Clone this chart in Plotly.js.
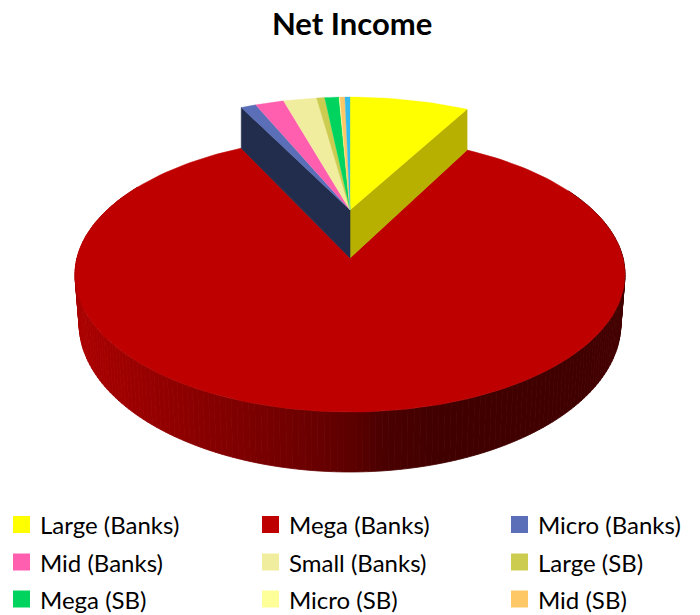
<!DOCTYPE html>
<html>
<head>
<meta charset="utf-8">
<script src="https://cdn.plot.ly/plotly-3.0.1.min.js"></script>
<style>html,body{margin:0;padding:0;background:#fff}#chart{width:700px;height:615px}</style>
</head>
<body>
<div id="chart"></div>
<script>
// Share of net income per segment, clockwise from twelve o'clock (percent).
const categories = ['Large (Banks)', 'Mega (Banks)', 'Micro (Banks)', 'Mid (Banks)', 'Small (Banks)',
                    'Large (SB)', 'Mega (SB)', 'Micro (SB)', 'Mid (SB)', 'Small (SB)'];
const shares = [7.86, 84.86, 1.0, 1.89, 2.19, 0.53, 0.94, 0.06, 0.33, 0.33];
const colors = ['#FFFF00', '#BE0000', '#5A6FB8', '#FF5FAE', '#F0EE9E',
                '#CCCC50', '#00D45F', '#FFFF99', '#FFC866', '#33BBEE'];
const legendCount = 9;   // the key lists the first nine segments

// Pie projection: a tilted disc seen in perspective.
const CX = 350, CY = 258, RX = 273, RY = 135.5, TILT = 0.12;
const WALL = 48, WALL_TILT = 0.2, BASE_SHRINK = 0.985;
const FRONT_STOPS = [[80, [170, 0, 0]], [193, [138, 0, 0]], [293, [112, 0, 0]],
                     [353, [92, 0, 0]], [383, [74, 0, 0]], [450, [64, 0, 0]], [640, [66, 0, 0]]];

function project(angleDeg, radius, lift) {
  const t = angleDeg * Math.PI / 180;
  const X = radius * Math.sin(t), Y = -radius * Math.cos(t);
  const s = 1 / (1 - TILT * Y);
  return [CX + RX * X * s, CY + RY * Y * s - lift];
}
function wallHeight(angleDeg) {
  const Y = -Math.cos(angleDeg * Math.PI / 180);
  return WALL / (1 - WALL_TILT * Y);
}
function basePoint(angleDeg) {
  const top = project(angleDeg, 1, 0);
  return [CX + (top[0] - CX) * BASE_SHRINK, top[1] + wallHeight(angleDeg)];
}
function polygon(points, color, width) {
  return {
    type: 'scatter', mode: 'lines', fill: 'toself', fillcolor: color,
    x: points.map(p => p[0]).concat(points[0][0]),
    y: points.map(p => p[1]).concat(points[0][1]),
    line: {color: color, width: width === undefined ? 0.6 : width},
    hoverinfo: 'skip', showlegend: false
  };
}
function shade(x) {
  for (let i = 1; i < FRONT_STOPS.length; i++) {
    if (x <= FRONT_STOPS[i][0]) {
      const [x0, c0] = FRONT_STOPS[i - 1], [x1, c1] = FRONT_STOPS[i];
      const f = Math.max(0, (x - x0) / (x1 - x0));
      return 'rgb(' + c0.map((c, k) => Math.round(c + (c1[k] - c) * f)).join(',') + ')';
    }
  }
  return 'rgb(66,0,0)';
}
function arc(a0, a1, lift) {
  const pts = [], n = Math.max(2, Math.ceil(Math.abs(a1 - a0) / 1.5));
  for (let i = 0; i <= n; i++) pts.push(project(a0 + (a1 - a0) * i / n, 1, lift));
  return pts;
}

// Angular span of each segment.
const total = shares.reduce((a, b) => a + b, 0);
const spans = [];
let running = 0;
shares.forEach(v => { const a0 = running; running += v / total * 360; spans.push([a0, running]); });

const traces = [];

// Outer wall of the large segment, shaded in narrow strips.
const [redStart, redEnd] = spans[1];
const stripStep = 1.2;
for (let a = 90; a < 270; a += stripStep) {
  const a1 = Math.min(a + stripStep, 270);
  const p0 = project(a, 1, 0), p1 = project(a1, 1, 0);
  const q0 = basePoint(a), q1 = basePoint(a1);
  traces.push(polygon([p0, p1, q1, q0], shade((p0[0] + p1[0]) / 2), 0.8));
}
for (const [from, to] of [[redStart + 30, 90], [270, redEnd - 30]]) {
  for (let a = from; a < to; a += stripStep) {
    const a1 = Math.min(a + stripStep, to);
    const p0 = project(a, 1, 0), p1 = project(a1, 1, 0);
    const q0 = basePoint(a), q1 = basePoint(a1);
    traces.push(polygon([p0, p1, q1, q0], shade((p0[0] + p1[0]) / 2), 0.8));
  }
}

// Top of the large segment.
traces.push(polygon([[CX, CY]].concat(arc(redStart, redEnd, 0)), colors[1]));

// The remaining segments stand proud of the disc; cut faces first, then their tops.
const lift = a => (a === null ? WALL : wallHeight(a));
const rightA = spans[0][1], leftA = spans[spans.length - 1][1] === 360 ? spans[2][0] : spans[2][0];
const rightBase = project(rightA, 1, 0), leftBase = project(leftA, 1, 0);
traces.push(polygon([[CX, CY], rightBase, project(rightA, 1, lift(rightA)), [CX, CY - WALL]], '#B8B000'));
traces.push(polygon([[CX, CY], leftBase, project(leftA, 1, lift(leftA)), [CX, CY - WALL]], '#222C4C'));

spans.forEach((s, i) => {
  if (i === 1) return;
  const steps = Math.max(2, Math.ceil((s[1] - s[0]) / 1.5));
  const rim = [];
  for (let k = 0; k <= steps; k++) {
    const a = s[0] + (s[1] - s[0]) * k / steps;
    rim.push(project(a, 1, lift(a)));
  }
  traces.push(polygon([[CX, CY - WALL]].concat(rim), colors[i], 0.3));
});

// Key beneath the pie, three columns by three rows.
const keyColumns = [21.5, 270.5, 519.5], keyRows = [524.5, 562, 599];
const keyX = [], keyY = [];
for (let i = 0; i < legendCount; i++) {
  keyX.push(keyColumns[i % 3]);
  keyY.push(keyRows[Math.floor(i / 3)]);
}
traces.push({
  type: 'scatter', mode: 'markers', x: keyX, y: keyY,
  marker: {symbol: 'square', size: 17, color: colors.slice(0, legendCount), line: {width: 0}},
  hoverinfo: 'skip', showlegend: false, cliponaxis: false
});

const annotations = categories.slice(0, legendCount).map((name, i) => ({
  text: name, x: keyX[i] + 16.5, y: keyY[i], xref: 'x', yref: 'y',
  xanchor: 'left', yanchor: 'middle', showarrow: false, xshift: 0,
  font: {family: 'Lato, sans-serif', size: 24, color: '#000'}
}));

const layout = {
  width: 700, height: 615,
  margin: {l: 0, r: 0, t: 0, b: 0, pad: 0},
  paper_bgcolor: '#fff', plot_bgcolor: '#fff',
  showlegend: false,
  title: {text: '<b>Net Income</b>', x: 0.503, xanchor: 'center', y: 0.961, yanchor: 'middle',
          font: {family: 'Lato, sans-serif', size: 31, color: '#000'}},
  xaxis: {range: [0, 700], visible: false, fixedrange: true},
  yaxis: {range: [615, 0], visible: false, fixedrange: true},
  annotations: annotations
};
Plotly.newPlot('chart', traces, layout, {displayModeBar: false, staticPlot: true});
</script>
</body>
</html>
